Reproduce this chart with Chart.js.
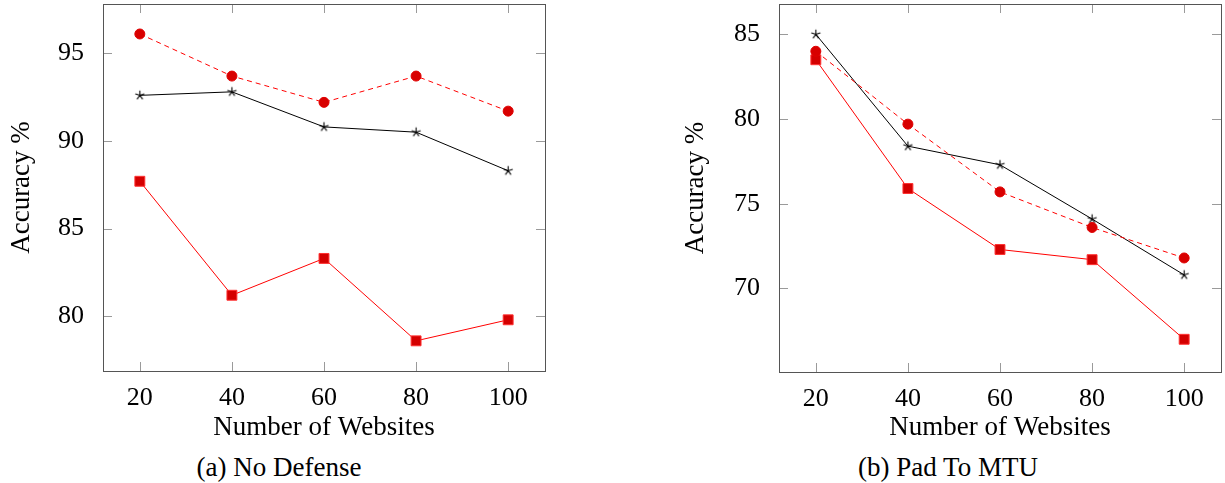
<!DOCTYPE html>
<html>
<head>
<meta charset="utf-8">
<script src="https://cdn.jsdelivr.net/npm/chart.js@4.4.1/dist/chart.umd.min.js"></script>
<style>
  body { margin: 0; background: #fff; width: 1225px; height: 483px; position: relative; overflow: hidden; }
  canvas { position: absolute; top: 0; }
  #c1 { left: 0; }
  #c2 { left: 674px; }
  .cap { position: absolute; font-family: "Liberation Serif", serif; font-size: 27px; color: #000;
         width: 400px; text-align: center; top: 451px; line-height: 32px; }
</style>
</head>
<body>
<canvas id="c1" width="560" height="445"></canvas>
<canvas id="c2" width="551" height="445"></canvas>
<div class="cap" style="left:79px">(a) No Defense</div>
<div class="cap" style="left:748px">(b) Pad To MTU</div>
<script>
var websites = [20, 40, 60, 80, 100];
var xTicks = [20, 40, 60, 80, 100];

// (a) No Defense
var ndCircle = [96.1, 93.7, 92.2, 93.7, 91.7];
var ndStar = [92.6, 92.8, 90.8, 90.5, 88.3];
var ndSquare = [87.7, 81.2, 83.3, 78.6, 79.8];
var ndTicks = [80, 85, 90, 95];

// (b) Pad To MTU
var mtuCircle = [84.0, 79.7, 75.7, 73.6, 71.8];
var mtuStar = [85.0, 78.4, 77.3, 74.1, 70.8];
var mtuSquare = [83.5, 75.9, 72.3, 71.7, 67.0];
var mtuTicks = [70, 75, 80, 85];

Chart.defaults.font.family = "'Liberation Serif', serif";
Chart.defaults.font.size = 26;
Chart.defaults.color = "#000";

// pgfplots style 5-spoke star mark
var star = document.createElement("canvas");
star.width = 13;
star.height = 13;
(function () {
  var c = star.getContext("2d");
  c.strokeStyle = "#000";
  c.lineWidth = 1.1;
  c.beginPath();
  for (var i = 0; i < 5; i++) {
    var ang = -Math.PI / 2 + i * 2 * Math.PI / 5;
    c.moveTo(6.5, 6.5);
    c.lineTo(6.5 + 4.8 * Math.cos(ang), 6.5 + 4.8 * Math.sin(ang));
  }
  c.stroke();
})();

var boxTicks = {
  id: "boxTicks",
  beforeDatasetsDraw: function (chart) {
    var ctx = chart.ctx;
    var a = chart.chartArea;
    var xs = chart.scales.x;
    var ys = chart.scales.y;
    ctx.save();
    ctx.strokeStyle = "#9a9a9a";
    ctx.lineWidth = 1;
    ctx.beginPath();
    xs.ticks.forEach(function (t) {
      var px = Math.round(xs.getPixelForValue(t.value)) + 0.5;
      ctx.moveTo(px, a.bottom); ctx.lineTo(px, a.bottom - 9);
      ctx.moveTo(px, a.top); ctx.lineTo(px, a.top + 9);
    });
    ys.ticks.forEach(function (t) {
      var py = Math.round(ys.getPixelForValue(t.value)) + 0.5;
      ctx.moveTo(a.left, py); ctx.lineTo(a.left + 9, py);
      ctx.moveTo(a.right, py); ctx.lineTo(a.right - 9, py);
    });
    ctx.stroke();
    ctx.strokeStyle = "#555";
    ctx.strokeRect(a.left + 0.5, a.top + 0.5, a.right - a.left, a.bottom - a.top);
    ctx.restore();
  }
};

function makeChart(id, circle, stars, squares, yTicks, yMin, yMax, yWidth, xHeight, padRight) {
  return new Chart(document.getElementById(id), {
    type: "line",
    data: {
      datasets: [{
        data: websites.map(function (w, i) { return { x: w, y: circle[i] }; }),
        borderColor: "#ff0000",
        borderWidth: 1,
        borderDash: [5, 4],
        pointStyle: "circle",
        pointRadius: 5,
        pointBackgroundColor: "#d80000",
        pointBorderColor: "#e00000",
        pointBorderWidth: 1
      }, {
        data: websites.map(function (w, i) { return { x: w, y: stars[i] }; }),
        borderColor: "#000",
        borderWidth: 1,
        pointStyle: star,
        pointRadius: 6
      }, {
        data: websites.map(function (w, i) { return { x: w, y: squares[i] }; }),
        borderColor: "#ff0000",
        borderWidth: 1,
        pointStyle: "rect",
        pointRadius: 7,
        pointBackgroundColor: "#d40000",
        pointBorderColor: "#ff3030",
        pointBorderWidth: 1
      }]
    },
    options: {
      responsive: false,
      animation: false,
      devicePixelRatio: 1,
      layout: { autoPadding: false, padding: { left: 0, right: padRight, top: 4, bottom: 0 } },
      plugins: { legend: { display: false }, tooltip: { enabled: false } },
      elements: { line: { tension: 0 } },
      scales: {
        x: {
          type: "linear",
          min: 12,
          max: 108,
          grid: { display: false },
          border: { display: false },
          afterBuildTicks: function (s) { s.ticks = xTicks.map(function (v) { return { value: v }; }); },
          afterFit: function (s) { s.height = xHeight; s.paddingLeft = 0; s.paddingRight = 0; },
          ticks: { padding: 4 },
          title: { display: true, text: "Number of Websites", font: { size: 27 }, padding: { top: 0, bottom: 1 } }
        },
        y: {
          type: "linear",
          min: yMin,
          max: yMax,
          grid: { display: false },
          border: { display: false },
          afterBuildTicks: function (s) { s.ticks = yTicks.map(function (v) { return { value: v }; }); },
          afterFit: function (s) { s.width = yWidth; s.paddingTop = 0; s.paddingBottom = 0; },
          ticks: { padding: 11 },
          title: { display: true, text: "Accuracy %", font: { size: 27 }, padding: { top: 6, bottom: 0 } }
        }
      }
    },
    plugins: [boxTicks]
  });
}

makeChart("c1", ndCircle, ndStar, ndSquare, ndTicks, 76.88, 97.81, 103, 74, 15);
makeChart("c2", mtuCircle, mtuStar, mtuSquare, mtuTicks, 65.07, 86.79, 105, 73, 4);
</script>
</body>
</html>
